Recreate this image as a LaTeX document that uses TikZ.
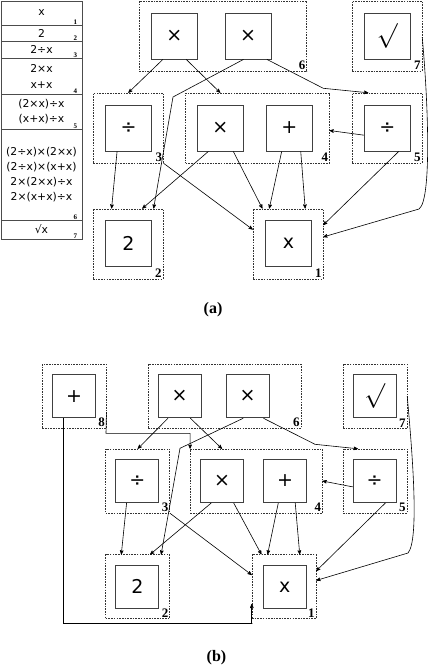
\documentclass[tikz,border=0pt]{standalone}
\usepackage{fontspec}
\setmainfont{Liberation Serif}
\newfontfamily\opfont{DejaVu Sans}
\usepackage{tikz}
\usetikzlibrary{arrows, positioning, fit, shapes, shapes.misc}

\begin{document}
\begin{tikzpicture}[->,
			>=stealth',
			x=1pt, y=1pt,
			line width=0.6pt,
			op/.style={draw=black!75, line width=0.9pt, minimum size=46pt, inner sep=0pt, font=\opfont\fontsize{19}{19}\selectfont},
			opb/.style={op, minimum size=43pt},
			rt/.style={font=\fontsize{27}{27}\selectfont},
			grp/.style={draw=black!80, dash pattern=on 1.6pt off 1.1pt, line width=0.45pt, minimum width=70pt, minimum height=70pt, inner sep=0pt},
			grpb/.style={grp, minimum width=64pt, minimum height=64pt},
			num/.style={anchor=south east, inner sep=1.2pt, font=\bfseries\fontsize{13}{13}\selectfont},
			row/.style={draw=black!70, line width=0.9pt, minimum width=81pt, inner sep=0pt, align=center, font=\opfont\fontsize{10.8}{15.3}\selectfont},
			sub/.style={anchor=south east, inner sep=1pt, xshift=-4pt, font=\bfseries\fontsize{7}{7}\selectfont},
			captxt/.style={font=\bfseries\fontsize{16}{16}\selectfont}]
			\useasboundingbox (0,0) rectangle (434,-668);

			\node[row, minimum height=24pt] (r1) at (41.5,-13) {x};
			\node[row, minimum height=16pt] (r2) at (41.5,-33) {2};
			\node[row, minimum height=17.7pt] (r3) at (41.5,-49.85) {2÷x};
			\node[row, minimum height=35.6pt] (r4) at (41.5,-76.5) {2×x\\x+x};
			\node[row, minimum height=35pt] (r5) at (41.5,-111.8) {(2×x)÷x\\(x+x)÷x};
			\node[row, minimum height=90.7pt] (r6) at (41.5,-174.65) {(2÷x)×(2×x)\\(2÷x)×(x+x)\\2×(2×x)÷x\\2×(x+x)÷x};
			\node[row, minimum height=19.3pt] (r7) at (41.5,-229.65) {√x};
			\foreach \i in {1,...,7}
				\node[sub] at (r\i.south east) {\i};

			\node[op] (m1) at (174.3,-36) {×};
			\node[op] (m2) at (248,-36) {×};
			\node[op, rt] (sq) at (387.3,-36) {$\surd$};
			\node[op] (d3) at (128.5,-128) {÷};
			\node[op] (m4) at (220.3,-128) {×};
			\node[op] (p4) at (289.3,-128) {+};
			\node[op] (d5) at (387.3,-128) {÷};
			\node[op] (t2) at (128.5,-243.7) {2};
			\node[op] (x1) at (288.5,-243.7) {x};

			\node[grp, minimum width=167.4pt] (g6) at (223,-36) {};
			\node[grp] (g7) at (387,-36) {};
			\node[grp] (g3) at (128.3,-128) {};
			\node[grp, minimum width=143.6pt] (g4) at (257.5,-128) {};
			\node[grp] (g5) at (387,-128) {};
			\node[grp] (g2) at (128,-243.8) {};
			\node[grp] (g1) at (288,-243.8) {};
			\foreach \g/\n in {g1/1, g2/2, g3/3, g4/4, g5/5, g6/6, g7/7}
				\node[num] at (\g.south east) {\n};

			\coordinate (k1) at (173,-97);
			\coordinate (k2) at (323.3,-88.3);
			\coordinate (k3) at (419,-209);
			\draw (m1.244) -- (g3.north);
			\draw (m1.-63) -- (g4.north -| m4);
			\draw (m2.259) -- (k1) -- (g2.54);
			\draw (m2.-51) -- (k2) -- (g5.118);
			\draw (d5.197) -- (g4.-2);
			\draw (d3.244) -- (g2.115);
			\draw (g3.south east) -- (g1.158);
			\draw (m4.243) -- (g2.68);
			\draw (m4.-61) -- (g1.126);
			\draw (p4.252) -- (g1.118);
			\draw (p4.-64) -- (g1.64);
			\draw (d5.-64) -- (g1.28);
			\draw (g7.-2) .. controls (428,-100) and (432,-200) .. (k3) -- (g1.11);
			\node[captxt] (capa) at (213,-310) {(a)};

			\node[opb] (pl8) at (74.2,-396.3) {+};
			\node[opb] (m1b) at (179.7,-396.3) {×};
			\node[opb] (m2b) at (247.5,-396.3) {×};
			\node[opb, rt] (sqb) at (374.7,-396.3) {$\surd$};
			\node[opb] (d3b) at (137.3,-481) {÷};
			\node[opb] (m4b) at (222,-481) {×};
			\node[opb] (p4b) at (285,-481) {+};
			\node[opb] (d5b) at (374.7,-481) {÷};
			\node[opb] (t2b) at (137.3,-586.8) {2};
			\node[opb] (x1b) at (284.7,-586.8) {x};

			\node[grpb] (g8) at (74.2,-396.3) {};
			\node[grpb, minimum width=153pt] (g6b) at (224.5,-396.3) {};
			\node[grpb] (g7b) at (375,-396.3) {};
			\node[grpb] (g3b) at (137.7,-481) {};
			\node[grpb, minimum width=132pt] (g4b) at (256.3,-481) {};
			\node[grpb] (g5b) at (375,-481) {};
			\node[grpb] (g2b) at (137.7,-586.7) {};
			\node[grpb] (g1b) at (284,-586.7) {};
			\foreach \g/\n in {g1b/1, g2b/2, g3b/3, g4b/4, g5b/5, g6b/6, g7b/7, g8/8}
				\node[num] at (\g.south east) {\n};

			\coordinate (k1b) at (180,-448.3);
			\coordinate (k2b) at (315,-444.3);
			\coordinate (k3b) at (106,-433.3);
			\coordinate (k4b) at (252.3,-623.3);
			\coordinate (k5b) at (408,-553);
			\draw (m1b.242) -- (g3b.north);
			\draw (m1b.-64) -- (g4b.north -| m4b);
			\draw (m2b.259) -- (k1b) -- (g2b.54);
			\draw (m2b.-54) -- (k2b) -- (g5b.118);
			\draw (g8.-26) -- (k3b) -| (g4b.north west);
			\draw (pl8.243) |- (k4b) -| (g1b.208);
			\draw (d5b.195) -- (g4b.east);
			\draw (d3b.244) -- (g2b.117);
			\draw (g3b.south east) -- (g1b.160);
			\draw (m4b.244) -- (g2b.69);
			\draw (m4b.-62) -- (g1b.125);
			\draw (p4b.253) -- (g1b.117);
			\draw (p4b.-65) -- (g1b.64);
			\draw (d5b.-64) -- (g1b.26);
			\draw (g7b.east) .. controls (413,-460) and (419,-540) .. (k5b) -- (g1b.11);
			\node[captxt] (capb) at (216.5,-658) {(b)};
		\end{tikzpicture}
\end{document}
